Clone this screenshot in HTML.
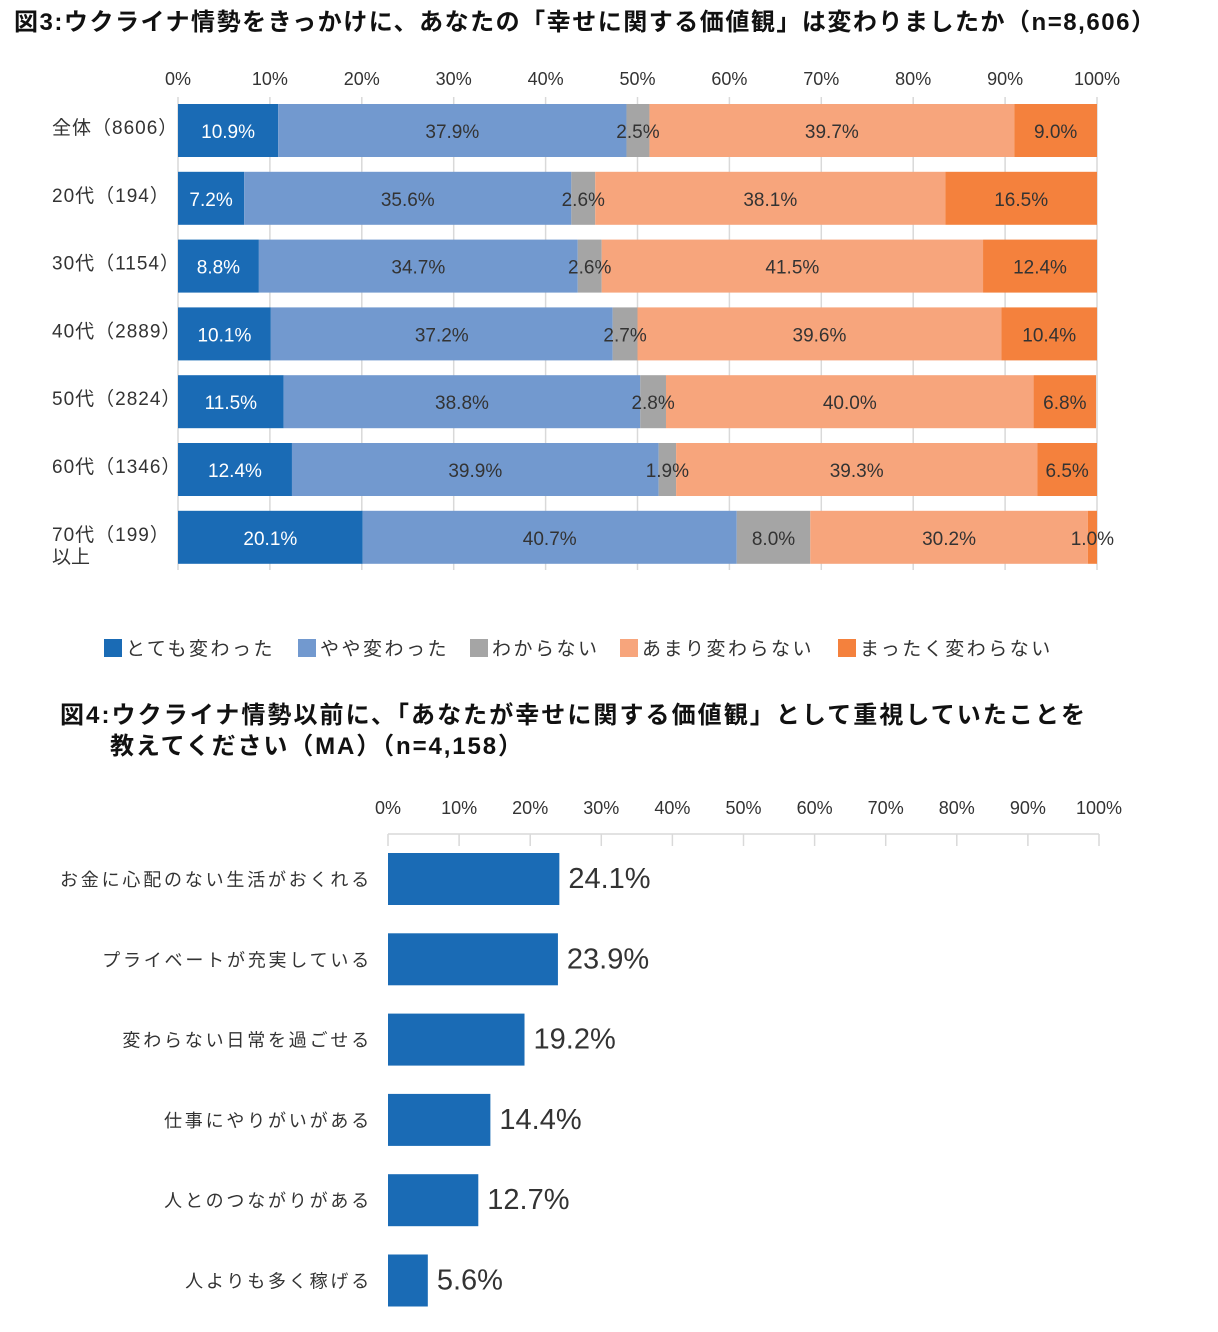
<!DOCTYPE html>
<html><head><meta charset="utf-8">
<style>
body{margin:0;background:#fff;width:1218px;height:1327px;overflow:hidden;font-family:"Liberation Sans","Noto Sans CJK JP",sans-serif;}
svg text{font-family:"Liberation Sans","Noto Sans CJK JP",sans-serif;}
</style></head>
<body>
<svg id="s" width="1218" height="1327">
<text x="14" y="30" font-size="24" font-weight="bold" fill="#111" textLength="1141" lengthAdjust="spacing">図3:ウクライナ情勢をきっかけに、あなたの「幸せに関する価値観」は変わりましたか（n=8,606）</text>
<text x="60" y="723" font-size="24" font-weight="bold" fill="#111" textLength="1025" lengthAdjust="spacing">図4:ウクライナ情勢以前に、「あなたが幸せに関する価値観」として重視していたことを</text>
<text x="110" y="754" font-size="24" font-weight="bold" fill="#111" textLength="412" lengthAdjust="spacing">教えてください（MA）（n=4,158）</text>
<g id="c1"></g><g id="c2"></g>
</svg>
<script>
const cats1=["全体（8606）","20代（194）","30代（1154）","40代（2889）","50代（2824）","60代（1346）","70代（199）"];
const series1Names=["とても変わった","やや変わった","わからない","あまり変わらない","まったく変わらない"];
const s_very=[10.9,7.2,8.8,10.1,11.5,12.4,20.1];
const s_some=[37.9,35.6,34.7,37.2,38.8,39.9,40.7];
const s_dk=[2.5,2.6,2.6,2.7,2.8,1.9,8.0];
const s_notmuch=[39.7,38.1,41.5,39.6,40.0,39.3,30.2];
const s_none=[9.0,16.5,12.4,10.4,6.8,6.5,1.0];
const ticks1=["0%","10%","20%","30%","40%","50%","60%","70%","80%","90%","100%"];
const cats2=["お金に心配のない生活がおくれる","プライベートが充実している","変わらない日常を過ごせる","仕事にやりがいがある","人とのつながりがある","人よりも多く稼げる"];
const vals2=[24.1,23.9,19.2,14.4,12.7,5.6];
const NS="http://www.w3.org/2000/svg";
function mk(p,t,a,txt){const e=document.createElementNS(NS,t);for(const k in a)e.setAttribute(k,a[k]);if(txt!==undefined)e.textContent=txt;p.appendChild(e);return e;}
const c1=document.getElementById('c1');
const x1=v=>178+v*(1097-178)/100;
const y1=i=>104+i*67.8;
const bh1=53;
ticks1.forEach((t,i)=>{
 const g=mk(c1,'line',{x1:x1(i*10),x2:x1(i*10),y1:97,y2:570,stroke:'#d9d9d9','stroke-width':1.5});
 
 const tx=mk(c1,'text',{x:x1(i*10),y:85,'font-size':18,'text-anchor':'middle',fill:'#333'},t);
 
});
const series=[s_very,s_some,s_dk,s_notmuch,s_none];
const cols=["#1a6bb5","#7299cf","#a5a5a5","#f7a57c","#f4813d"];
const tcol=["#fff","#333","#333","#333","#333"];
const labels=[];
cats1.forEach((c,i)=>{
 const lt=i===6?"70代（199）":c;
 const a=mk(c1,'text',{x:52,y:y1(i)+30,'font-size':19,fill:'#333','letter-spacing':'1'},lt);
 
 if(i===6){
  const b=mk(c1,'text',{x:52,y:y1(i)+52,'font-size':19,fill:'#333'},"以上");
  
 }
 let acc=0;
 series.forEach((s,k)=>{
  const v=s[i];
  const r=mk(c1,'rect',{x:x1(acc),y:y1(i),width:x1(acc+v)-x1(acc),height:bh1,fill:cols[k]});
  
  labels.push([x1(acc+v/2),y1(i)+34,tcol[k],v.toFixed(1)+"%"]);
  acc+=v;
 });
});
labels.forEach(l=>{
 const t=mk(c1,'text',{x:l[0],y:l[1],'font-size':19,'text-anchor':'middle',fill:l[2]},l[3]);
 
});
const lx=[104,298,470,620,838];
series1Names.forEach((n,k)=>{
 const r=mk(c1,'rect',{x:lx[k],y:639,width:18,height:18,fill:cols[k]});
 
 const t=mk(c1,'text',{x:lx[k]+22,y:655,'font-size':19,fill:'#333','letter-spacing':'2.5'},n);
 
});
const c2=document.getElementById('c2');
const x2=v=>388+v*(1099-388)/100;
const y2=i=>853+i*80.3;
ticks1.forEach((t,i)=>{
 const tx=mk(c2,'text',{x:x2(i*10),y:814,'font-size':18,'text-anchor':'middle',fill:'#333'},t);
 
 const tk=mk(c2,'line',{x1:x2(i*10),x2:x2(i*10),y1:834,y2:846,stroke:'#d9d9d9','stroke-width':1.5});
 
});
const ax=mk(c2,'line',{x1:x2(0),x2:x2(100),y1:834,y2:834,stroke:'#d9d9d9','stroke-width':1.5});

cats2.forEach((c,i)=>{
 const l=mk(c2,'text',{x:372,y:y2(i)+33,'font-size':18,'text-anchor':'end',fill:'#333','letter-spacing':'2.8'},c);
 
 const r=mk(c2,'rect',{x:x2(0),y:y2(i),width:x2(vals2[i])-x2(0),height:52,fill:'#1a6bb5'});
 
 const v=mk(c2,'text',{x:x2(vals2[i])+9,y:y2(i)+35,'font-size':29,fill:'#333'},vals2[i].toFixed(1)+"%");
 
});
</script>
</body></html>
